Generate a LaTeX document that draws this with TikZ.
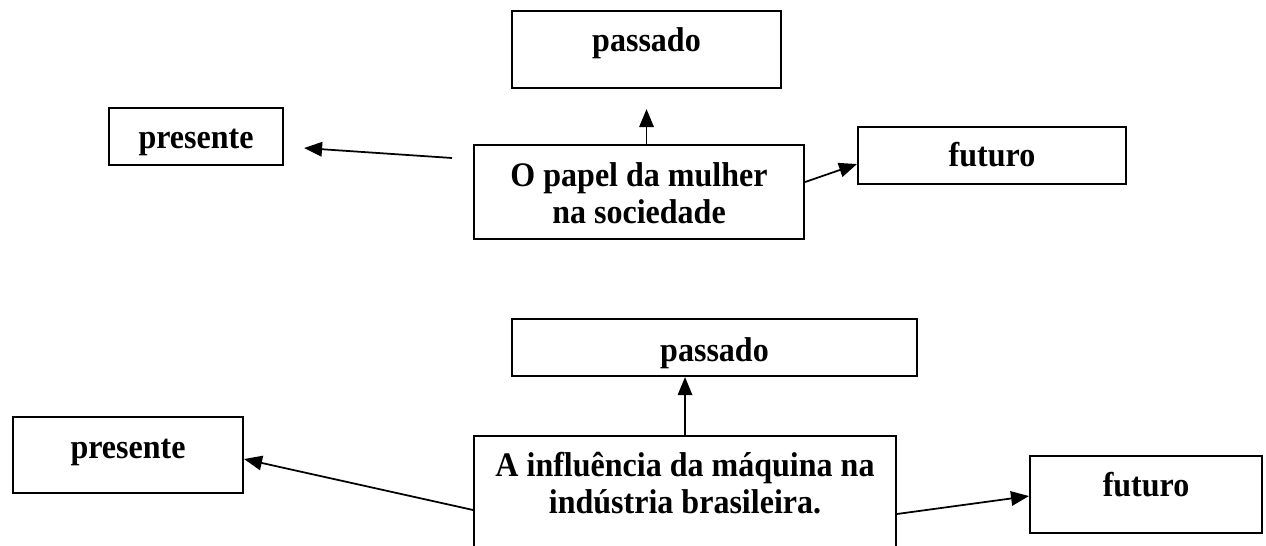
\documentclass[tikz,border=0pt]{standalone}
\usepackage{fontspec}
\setmainfont{Liberation Serif}[FakeStretch=0.93]
\usetikzlibrary{positioning,arrows.meta}

\begin{document}
\begin{tikzpicture}[x=0.02cm,y=-0.02cm,
    caixa/.style={draw,line width=1.2pt,inner sep=0pt,anchor=north west,
      font=\fontsize{19.6}{21.2}\selectfont\bfseries},
    seta/.style={-{Triangle[length=0.36cm,width=0.29cm]},line width=1pt}]
    \useasboundingbox (0,0) rectangle (1266,546);
    \clip (0,0) rectangle (1266,546);

    % primeiro tema
    \node[caixa,minimum width=5.38cm,text height=0.8cm,text depth=0.74cm] (passadoA) at (511,10) {passado};
    \node[caixa,minimum width=3.48cm,text height=0.8cm,text depth=0.34cm] (presenteA) at (108,107) {presente};
    \node[caixa,text width=6.6cm,align=flush center,text height=0.82cm,text depth=1.06cm] (papel) at (473,144) {O papel da mulher\\na sociedade};
    \node[caixa,minimum width=5.36cm,text height=0.78cm,text depth=0.36cm] (futuroA) at (857,126) {futuro};

    \draw[seta] (papel.north -| passadoA.south) -- ([yshift=-0.4cm]passadoA.south);
    \draw[seta] ([xshift=-0.42cm,yshift=-0.28cm]papel.north west) -- ([xshift=0.4cm,yshift=-0.23cm]presenteA.east);
    \draw[seta] ([yshift=0.2cm]papel.east) -- ([yshift=-0.17cm]futuroA.west);

    % segundo tema
    \node[caixa,minimum width=8.1cm,text height=0.84cm,text depth=0.3cm] (passadoB) at (511,318) {passado};
    \node[caixa,minimum width=4.6cm,text height=0.82cm,text depth=0.7cm] (presenteB) at (12,416) {presente};
    \node[caixa,text width=8.44cm,align=flush center,text height=0.8cm,text depth=3cm] (maquina) at (473,435) {A influência da máquina na\\indústria brasileira.};
    \node[caixa,minimum width=4.64cm,text height=0.8cm,text depth=0.74cm] (futuroB) at (1029,455) {futuro};

    \draw[seta] (maquina.north) -- (passadoB.south -| maquina.north);
    \draw[seta] ([yshift=-1.5cm]maquina.north west) -- ([yshift=-0.08cm]presenteB.east);
    \draw[seta] ([yshift=-1.58cm]maquina.north east) -- ([yshift=-0.03cm]futuroB.west);
\end{tikzpicture}
\end{document}
